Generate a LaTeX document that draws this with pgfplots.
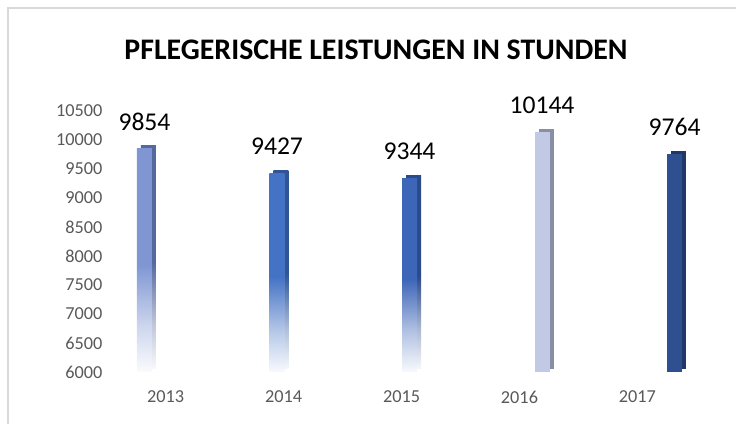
\documentclass[border=0pt]{standalone}
\usepackage{fontspec}
\setmainfont{Carlito}
\usepackage{pgfplots}
\pgfplotsset{compat=1.18}

% front / side colours of the five bars
\definecolor{f13}{HTML}{7F96D3}\definecolor{s13}{HTML}{56699E}
\definecolor{f14}{HTML}{4472C4}\definecolor{s14}{HTML}{2F5597}
\definecolor{f15}{HTML}{3E66B8}\definecolor{s15}{HTML}{2B4A8A}
\definecolor{f16}{HTML}{C1C9E5}\definecolor{s16}{HTML}{878EA6}
\definecolor{f17}{HTML}{2F5090}\definecolor{s17}{HTML}{1F3868}
\definecolor{frame}{HTML}{D9D9D9}
\definecolor{ticktxt}{HTML}{595959}

% solid at the top, fading to white near the floor
\newcommand\mkfade[2]{%
  \pgfdeclareverticalshading{#1}{100bp}{color(0bp)=(#2!4); color(25bp)=(#2!4);
    color(28bp)=(#2!14); color(35bp)=(#2!38); color(49bp)=(#2); color(100bp)=(#2)}}
\mkfade{fadeF13}{f13}\mkfade{fadeS13}{s13}
\mkfade{fadeF14}{f14}\mkfade{fadeS14}{s14}
\mkfade{fadeF15}{f15}\mkfade{fadeS15}{s15}

\begin{document}
\begin{tikzpicture}
\useasboundingbox (0,0) rectangle (552pt,318pt);
\draw[frame, line width=1.2pt] (6pt,-5pt) -- (6pt,312pt) -- (560pt,312pt);
\node[font=\fontsize{22.4}{26}\selectfont\bfseries] at (282pt,280.5pt)
  {PFLEGERISCHE LEISTUNGEN IN STUNDEN};

\begin{axis}[
  at={(70.6pt,39pt)}, anchor=south west,
  scale only axis, width=465.1pt, height=195.75pt,
  xmin=-0.38, xmax=4.3, ymin=6000, ymax=10500,
  axis line style={draw=none},
  major tick length=0pt,
  ytick={6000,6500,...,10500},
  scaled y ticks=false,
  xtick={0.16,1.05,1.94,2.83,3.72},
  xticklabels={2013,2014,2015,2016,2017},
  tick label style={font=\fontsize{13.7}{16}\selectfont, text=ticktxt},
  xticklabel style={anchor=center, yshift=-18.75pt},
  yticklabel style={xshift=9.8pt},
  /pgf/number format/assume math mode=true,
  /pgf/number format/1000 sep={},
  bar width=11.25pt,
]
% side faces (shifted back)
\addplot[ybar, bar shift=3pt, yshift=2.25pt, draw=none, shading=fadeS13] coordinates {(0,9854)};
\addplot[ybar, bar shift=3pt, yshift=2.25pt, draw=none, shading=fadeS14] coordinates {(1,9427)};
\addplot[ybar, bar shift=3pt, yshift=2.25pt, draw=none, shading=fadeS15] coordinates {(2,9344)};
\addplot[ybar, bar shift=3pt, yshift=2.25pt, draw=none, fill=s16] coordinates {(3,10144)};
\addplot[ybar, bar shift=3pt, yshift=2.25pt, draw=none, fill=s17] coordinates {(4,9764)};
% front faces
\addplot[ybar, bar shift=0pt, draw=none, shading=fadeF13] coordinates {(0,9854)};
\addplot[ybar, bar shift=0pt, draw=none, shading=fadeF14] coordinates {(1,9427)};
\addplot[ybar, bar shift=0pt, draw=none, shading=fadeF15] coordinates {(2,9344)};
\addplot[ybar, bar shift=0pt, draw=none, fill=f16] coordinates {(3,10144)};
\addplot[ybar, bar shift=0pt, draw=none, fill=f17] coordinates {(4,9764)};
% value labels
\addplot[draw=none, mark=none, nodes near coords,
  every node near coord/.style={anchor=south, inner sep=0pt, yshift=13.5pt,
    font=\fontsize{19.2}{22}\selectfont, text=black},
  /pgf/number format/assume math mode=true, /pgf/number format/1000 sep={}]
  coordinates {(0,9854) (1,9427) (2,9344) (3,10144) (4,9764)};
\end{axis}
\end{tikzpicture}
\end{document}
